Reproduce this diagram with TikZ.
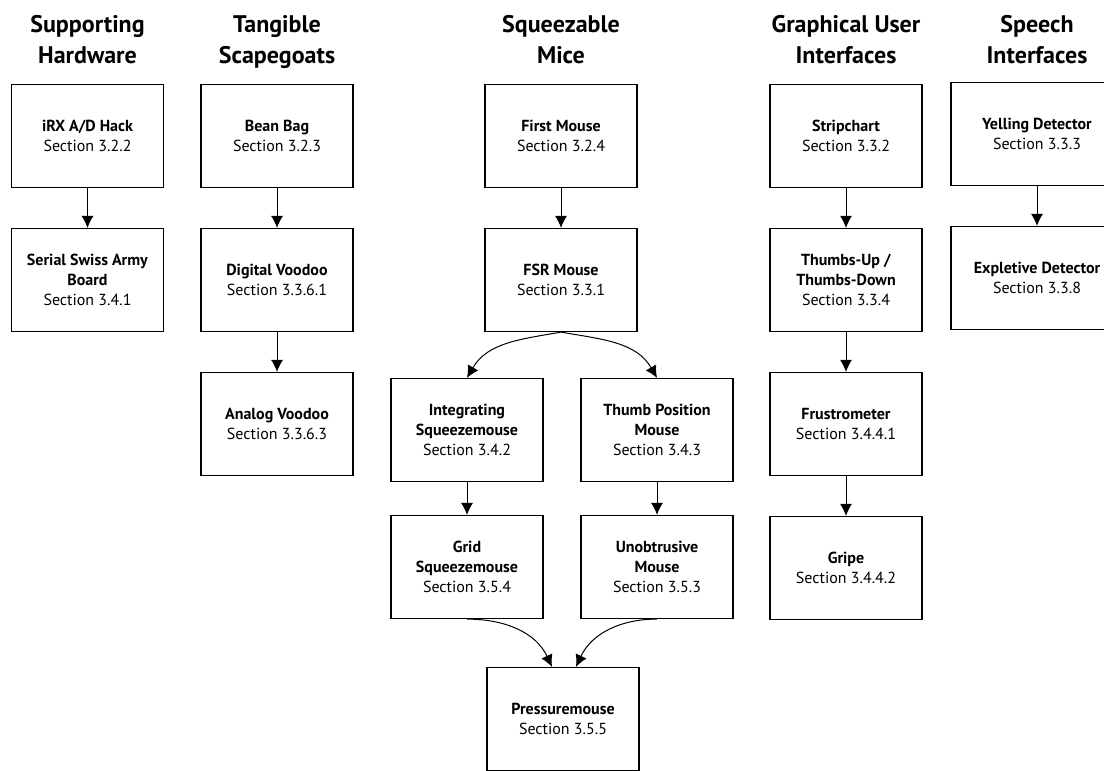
\documentclass[tikz,border=0pt]{standalone}
\usepackage{fontspec}
\setmainfont{PT Sans}
\usetikzlibrary{arrows.meta}
\begin{document}
\begin{tikzpicture}
    \tikzstyle{every node}=[font=\fontsize{16}{20}\selectfont, align=center]
    \tikzset{
        node distance=144pt,
        n/.style={draw, line width=1.2pt, minimum height=103pt, minimum width=152pt, inner sep=2pt},
        n2/.style={n, minimum width=172pt},
        hd/.style={font=\fontsize{24}{31}\selectfont\bfseries, execute at begin node=\strut, execute at end node=\strut},
        a/.style={-{Latex[length=12pt, width=12pt]}, line width=1pt}
        }
    \useasboundingbox (0,0) rectangle (1104pt,-771pt);

    %top row
    \node (irx) [n] at (87.5pt,-136pt) {\textbf{iRX A/D Hack}\\Section 3.2.2};
    \node (bean) [n, right of=irx, xshift=45.5pt] {\textbf{Bean Bag}\\Section 3.2.3};
    \node (first) [n, right of=bean, xshift=140pt] {\textbf{First Mouse}\\Section 3.2.4};
    \node (strip) [n, right of=first, xshift=141pt] {\textbf{Stripchart}\\Section 3.3.2};
    \node (yell) [n2, right of=strip, xshift=47pt, yshift=2pt] {\textbf{Yelling Detector}\\Section 3.3.3};

    %headings
    \node (hw) [hd, above of=irx, yshift=-52pt] {Supporting\\Hardware};
    \node (tang) [hd, above of=bean, yshift=-52pt] {Tangible\\Scapegoats};
    \node (mice) [hd, above of=first, yshift=-52pt] {Squeezable\\Mice};
    \node (gui) [hd, above of=strip, yshift=-52pt] {Graphical User\\Interfaces};
    \node (speech) [hd, above of=yell, yshift=-54pt] {Speech\\Interfaces};

    %supporting hardware
    \node (serial) [n, below of=irx] {\textbf{Serial Swiss Army}\\\textbf{Board}\\Section 3.4.1};

    %scapegoats
    \node (digital) [n, below of=bean] {\textbf{Digital Voodoo}\\Section 3.3.6.1};
    \node (analog) [n, below of=digital] {\textbf{Analog Voodoo}\\Section 3.3.6.3};

    %mice
    \node (fsr) [n, below of=first] {\textbf{FSR Mouse}\\Section 3.3.1};
    \node (integ) [n, below of=fsr, xshift=-94pt, yshift=-6pt] {\textbf{Integrating}\\\textbf{Squeezemouse}\\Section 3.4.2};
    \node (thumb) [n, below of=fsr, xshift=96pt, yshift=-6pt] {\textbf{Thumb Position}\\\textbf{Mouse}\\Section 3.4.3};
    \node (grid) [n, below of=integ, yshift=7pt] {\textbf{Grid}\\\textbf{Squeezemouse}\\Section 3.5.4};
    \node (unob) [n, below of=thumb, yshift=7pt] {\textbf{Unobtrusive}\\\textbf{Mouse}\\Section 3.5.3};
    \node (press) [n, below of=grid, xshift=96pt, yshift=-8pt] {\textbf{Pressuremouse}\\Section 3.5.5};

    %gui
    \node (thumbs) [n, below of=strip] {\textbf{Thumbs-Up /}\\\textbf{Thumbs-Down}\\Section 3.3.4};
    \node (frust) [n, below of=thumbs] {\textbf{Frustrometer}\\Section 3.4.4.1};
    \node (gripe) [n, below of=frust] {\textbf{Gripe}\\Section 3.4.4.2};

    %speech
    \node (expl) [n2, below of=yell] {\textbf{Expletive Detector}\\Section 3.3.8};

    \draw[a] (irx) -- (serial);
    \draw[a] (bean) -- (digital);
    \draw[a] (digital) -- (analog);
    \draw[a] (first) -- (fsr);
    \draw[a] (integ) -- (grid);
    \draw[a] (thumb) -- (unob);
    \draw[a] (strip) -- (thumbs);
    \draw[a] (thumbs) -- (frust);
    \draw[a] (frust) -- (gripe);
    \draw[a] (yell) -- (expl);

    % branches
    \draw [a] (fsr.south) to [out=190,in=60] (integ.north);
    \draw [a] (fsr.south) to [out=-10,in=120] (thumb.north);
    \draw [a] (grid.south) to [out=0,in=115] ([xshift=-11pt]press.north);
    \draw [a] (unob.south) to [out=180,in=65] ([xshift=13pt]press.north);
\end{tikzpicture}
\end{document}
